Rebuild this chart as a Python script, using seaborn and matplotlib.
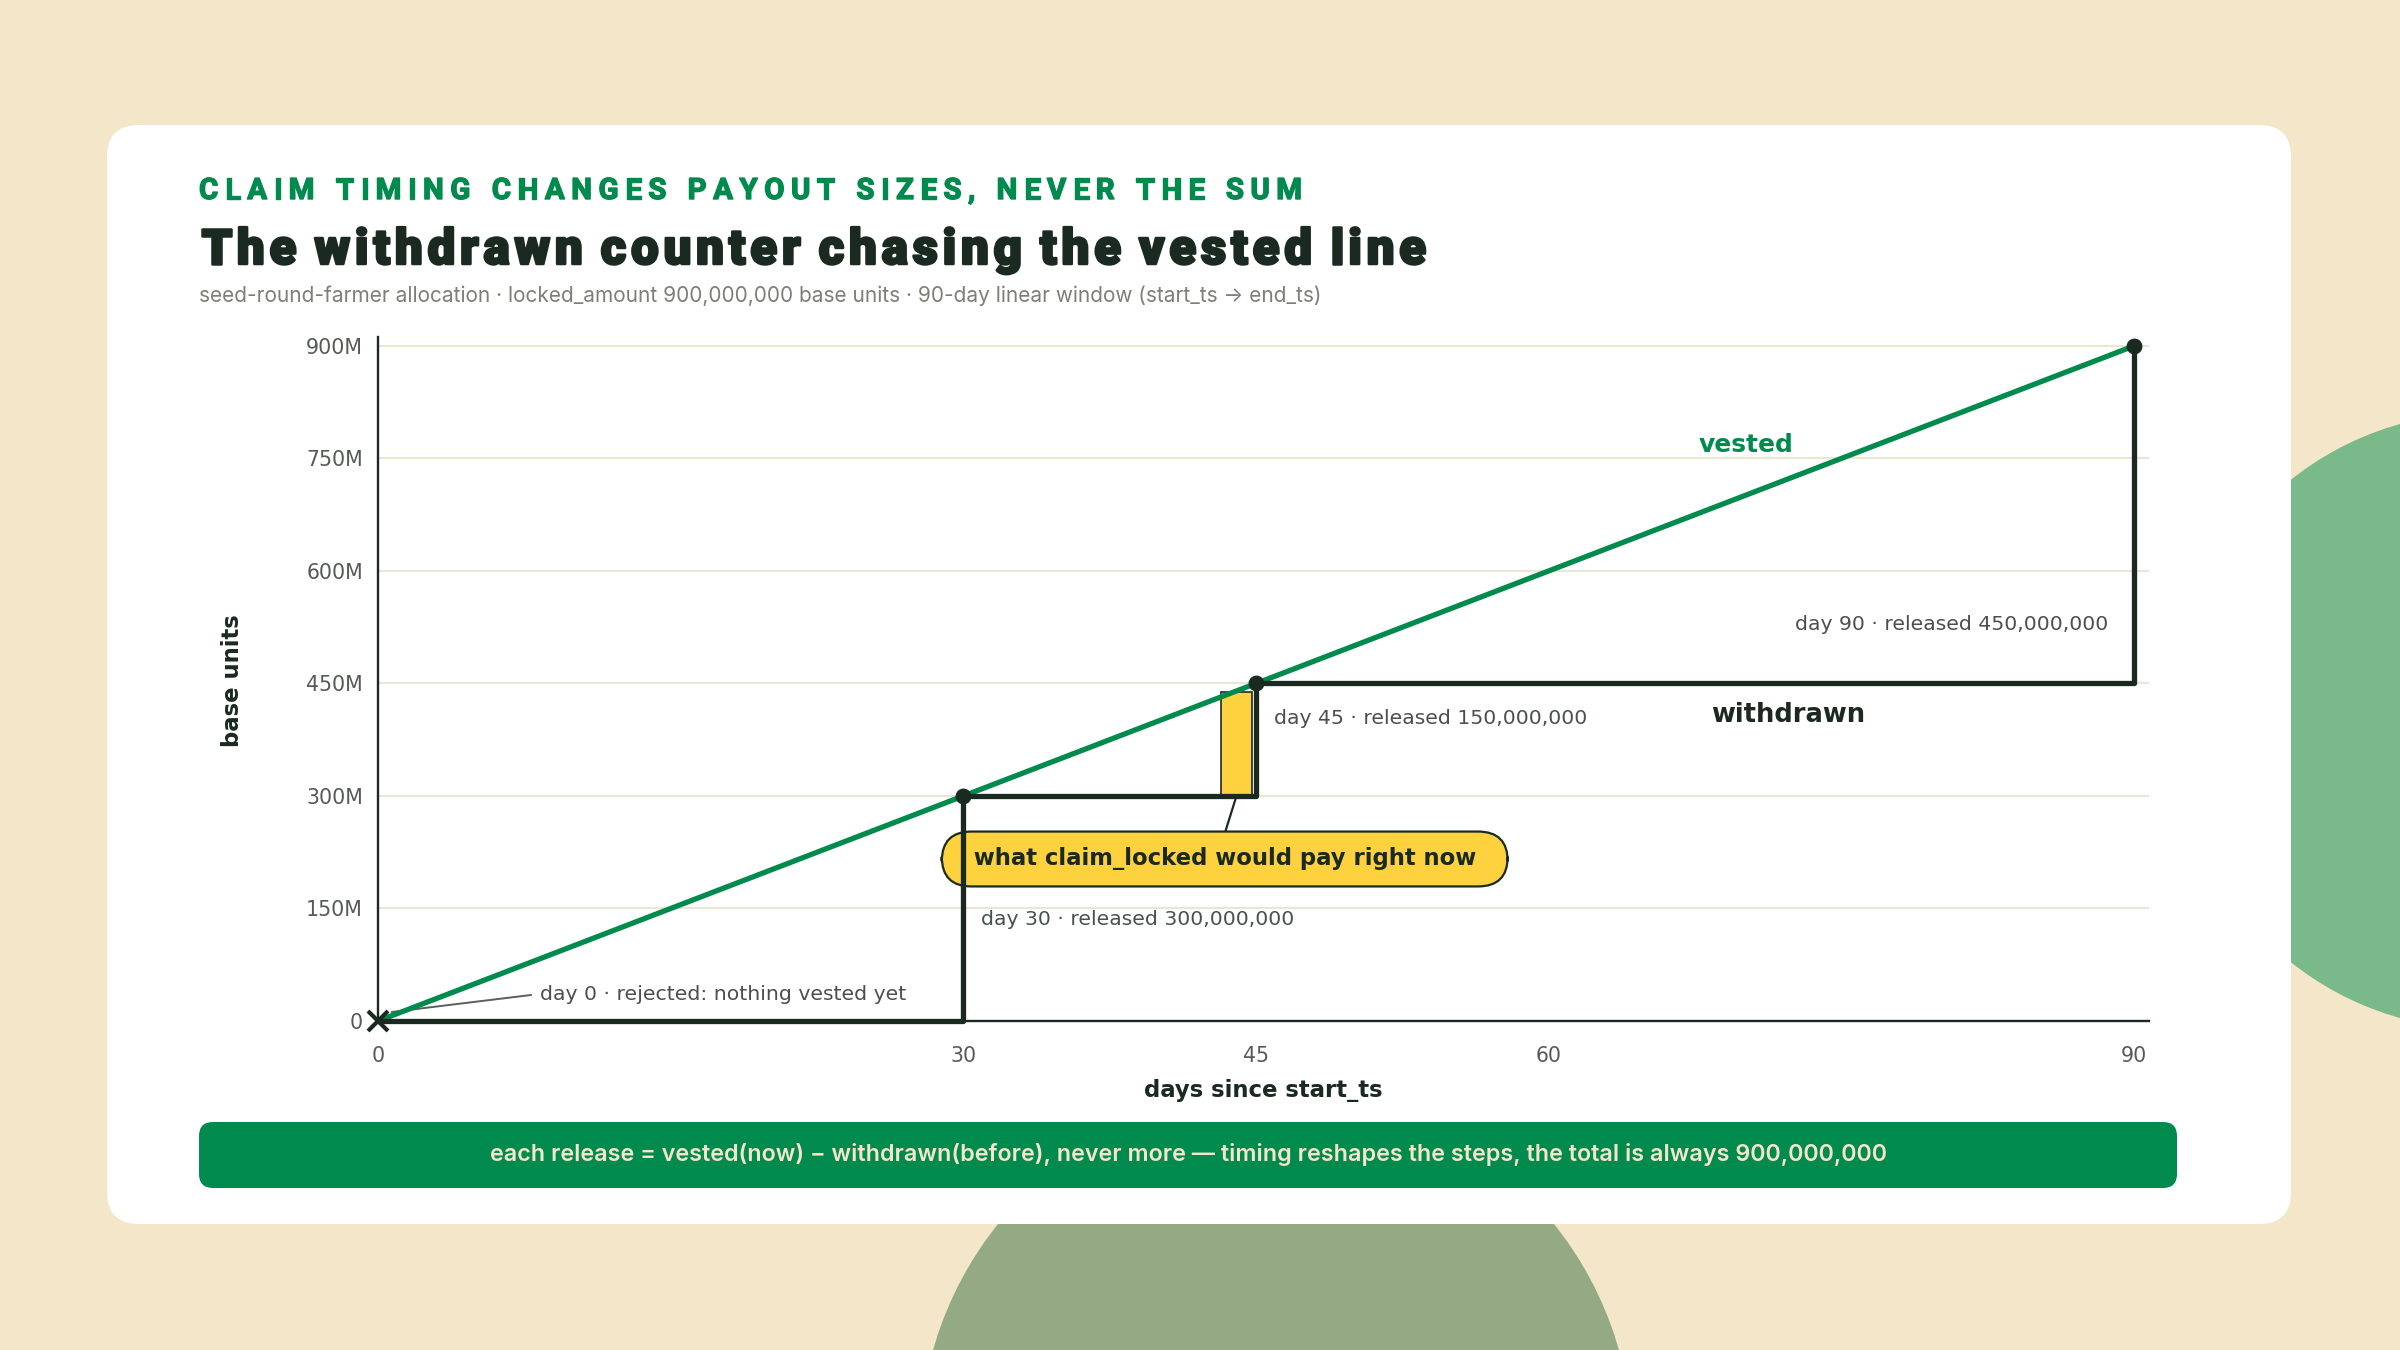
import matplotlib
matplotlib.use('Agg')
import matplotlib.pyplot as plt
import matplotlib.patches as mpatches
import matplotlib.patheffects as pe
from matplotlib.transforms import IdentityTransform
from matplotlib.ticker import FuncFormatter
import seaborn as sns

# amounts in millions of base units
vest_days = [0, 90]
vest_amount = [0, 900]
claim_days = [0, 30, 45, 90]
withdrawn_amount = [0, 300, 450, 900]
released = [0, 300, 150, 450]
y_ticks = [0, 150, 300, 450, 600, 750, 900]
x_ticks = [0, 30, 45, 60, 90]
pending_days = [43.2, 44.8]   # the yellow "pay right now" bar
pending_top = 438

GREEN = '#008a4e'
DARK = '#1b2a21'
CREAM = '#f4e6c8'
YELLOW = '#fdd23e'
GRID = '#ebe5d3'
TICK = '#555a55'
NOTE = '#4a514c'

sns.set_theme(style='white')
plt.rcParams['font.family'] = ['DejaVu Sans']

fig = plt.figure(figsize=(12, 6.75), dpi=200, facecolor=CREAM)
px = IdentityTransform()
r = fig.canvas.get_renderer()

# background decoration + card
fig.add_artist(mpatches.Circle((2483, 629), 307, transform=px, color='#7ab98a', zorder=-5))
fig.add_artist(mpatches.Circle((1276, -97), 355, transform=px, color='#94aa84', zorder=-5))
fig.add_artist(mpatches.FancyBboxPatch((107, 126), 2184, 1099, boxstyle='round,pad=0,rounding_size=32',
                                       transform=px, fc='white', ec='none', zorder=-4))


def spaced_text(x, y, s, width, space=0.5, **kw):
    # draw char by char so the string spans `width` pixels
    ws = []
    for ch in s:
        t = fig.text(0, 0, 'n' if ch == ' ' else ch, transform=px, **kw)
        w = t.get_window_extent(r).width
        ws.append(w * space if ch == ' ' else w)
        t.remove()
    gap = (width - sum(ws)) / (len(s) - 1)
    for ch, w in zip(s, ws):
        if ch != ' ':
            fig.text(x, y, ch, transform=px, ha='left', va='baseline', **kw)
        x += w + gap


def fit_text(x, y, s, width, **kw):
    t = fig.text(x, y, s, transform=px, **kw)
    w = t.get_window_extent(r).width
    t.set_fontsize(t.get_fontsize() * width / w)
    return t


spaced_text(199, 1151, 'CLAIM TIMING CHANGES PAYOUT SIZES, NEVER THE SUM', 1103,
            family=['Roboto', 'DejaVu Sans'], weight='bold', size=10.6, color=GREEN,
            path_effects=[pe.withStroke(linewidth=0.5, foreground=GREEN)])
spaced_text(201, 1086, 'The withdrawn counter chasing the vested line', 1225, space=0.3,
            family=['Roboto', 'DejaVu Sans'], weight='black', size=17.7, color=DARK,
            path_effects=[pe.withStroke(linewidth=0.9, foreground=DARK)])
fit_text(199, 1048, 'seed-round-farmer allocation · locked_amount 900,000,000 base units · '
         '90-day linear window (start_ts → end_ts)', 1126,
         family=['Inter', 'DejaVu Sans'], size=7.3, color='#7d7f78', va='baseline')

# chart
ax = fig.add_axes([0.1575, 0.2437, 0.7379, 0.5067])
ax.set_facecolor('none')

sns.lineplot(x=vest_days, y=vest_amount, color=GREEN, lw=1.9, ax=ax, zorder=3, clip_on=False)
sns.lineplot(x=claim_days, y=withdrawn_amount, drawstyle='steps-post', estimator=None,
             color=DARK, lw=1.9, ax=ax, zorder=4, clip_on=False)
sns.scatterplot(x=claim_days[1:], y=withdrawn_amount[1:], color=DARK, edgecolor=DARK,
                s=28, ax=ax, zorder=5, clip_on=False)
ax.plot(claim_days[0], withdrawn_amount[0], marker='x', ms=7.5, mew=1.5, color=DARK,
        zorder=6, clip_on=False)

ax.add_patch(mpatches.Rectangle((pending_days[0], withdrawn_amount[1]),
                                pending_days[1] - pending_days[0], pending_top - withdrawn_amount[1],
                                fc=YELLOW, ec=DARK, lw=0.6, zorder=2))

# notes
note = dict(size=7.35, color=NOTE, va='center')
ax.plot([0.7, 7.85], [12, 34.7], color='#5a5f5a', lw=0.7, zorder=2)
ax.text(8.3, 34.7, f'day {claim_days[0]} · rejected: nothing vested yet', ha='left', **note)
ax.text(30.9, 135, f'day {claim_days[1]} · released {released[1] * 1_000_000:,}', ha='left', **note)
ax.text(45.9, 403, f'day {claim_days[2]} · released {released[2] * 1_000_000:,}', ha='left', **note)
ax.text(88.7, 528, f'day {claim_days[3]} · released {released[3] * 1_000_000:,}', ha='right', **note)
ax.text(70.1, 768, 'vested', ha='center', va='center', color=GREEN, weight='bold', size=9.0)
ax.text(72.3, 408, 'withdrawn', ha='center', va='center', color=DARK, weight='bold', size=9.3)

ax.plot([44.0, 43.4], [300, 250], color=DARK, lw=0.8, zorder=3)
ax.text(43.4, 216, '  what claim_locked would pay right now  ', ha='center', va='center',
        weight='bold', size=8.2, color=DARK, zorder=3.5,
        bbox=dict(boxstyle='round,pad=0.7,rounding_size=1.3', fc=YELLOW, ec=DARK, lw=0.8))

# axes styling
ax.set_xlim(0, 90.77)
ax.set_ylim(0, 912)
ax.set_xticks(x_ticks)
ax.set_yticks(y_ticks)
ax.yaxis.set_major_formatter(FuncFormatter(lambda v, p: '0' if v == 0 else f'{v:.0f}M'))
ax.grid(axis='y', color=GRID, lw=0.8)
ax.set_axisbelow(True)
for side in ['top', 'right']:
    ax.spines[side].set_visible(False)
for side in ['left', 'bottom']:
    ax.spines[side].set_color(DARK)
    ax.spines[side].set_linewidth(0.85)
ax.tick_params(axis='x', length=3, width=0.8, color=DARK, pad=6, labelsize=7.4, labelcolor=TICK)
ax.tick_params(axis='y', length=0, pad=5.4, labelsize=7.4, labelcolor=TICK)
ax.set_xlabel('days since start_ts', weight='bold', size=8.2, color=DARK, va='center')
ax.set_ylabel('base units', weight='bold', size=8.2, color=DARK, va='center', ha='center')
ax.xaxis.set_label_coords(0.5, -0.101)
ax.yaxis.set_label_coords(-0.082, 0.497)

# bottom banner
fig.add_artist(mpatches.FancyBboxPatch((199, 162), 1978, 66, boxstyle='round,pad=0,rounding_size=14',
                                       transform=px, fc=GREEN, ec='none', zorder=1))
fit_text(1188, 196, 'each release = vested(now) − withdrawn(before), never more — timing reshapes '
         'the steps, the total is always 900,000,000', 1396,
         family=['Inter', 'DejaVu Sans'], weight='semibold', size=8, color=CREAM,
         ha='center', va='center', zorder=2)

fig.savefig('out.png', dpi=200, facecolor=CREAM)
